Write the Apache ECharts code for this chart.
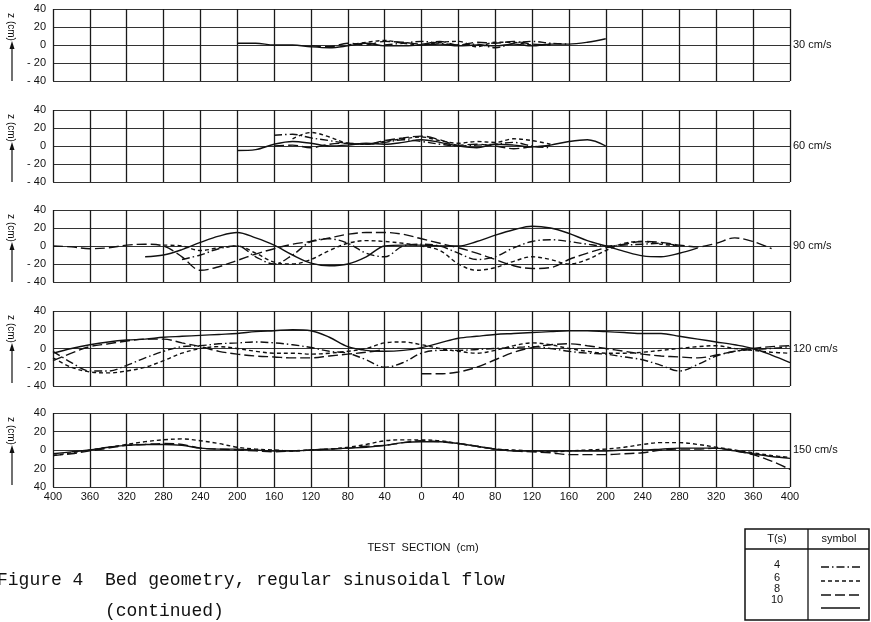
<!DOCTYPE html>
<html><head><meta charset="utf-8">
<script src="https://cdn.jsdelivr.net/npm/echarts@6.0.0/dist/echarts.min.js"></script>
<style>html,body{margin:0;padding:0;background:#fff}#c{width:871px;height:622px}</style>
</head><body><div id="c"></div>
<script>
const _ = null;
// test-section positions (cm), left half shown as 400..0, right half 0..400
const X = [-400,-380,-360,-340,-320,-300,-280,-260,-240,-220,-200,-180,-160,-140,-120,-100,-80,-60,-40,-20,0,20,40,60,80,100,120,140,160,180,200,220,240,260,280,300,320,340,360,380,400];
const speeds = ['30 cm/s','60 cm/s','90 cm/s','120 cm/s','150 cm/s'];
const periods = ['4','6','8','10'];

// 30 cm/s
const v30_T4  = [_,_,_,_,_,_,_,_,_,_,_,_,_,_,_,_,_,_,0,2,4,2,0,1,-3,2,4,2,1,_,_,_,_,_,_,_,_,_,_,_,_];
const v30_T6  = [_,_,_,_,_,_,_,_,_,_,_,_,_,_,_,_,0,3,5,2,0,3,4,-2,3,3,0,1,_,_,_,_,_,_,_,_,_,_,_,_,_];
const v30_T8  = [_,_,_,_,_,_,_,_,_,_,_,_,_,_,-1,-2,2,0,4,3,1,4,0,3,2,4,1,0,_,_,_,_,_,_,_,_,_,_,_,_,_];
const v30_T10 = [_,_,_,_,_,_,_,_,_,_,2,2,0,0,-2,-3,-1,2,-1,-1,0,1,-1,0,-1,1,-1,1,1,3,7,_,_,_,_,_,_,_,_,_,_];
// 60 cm/s
const v60_T4  = [_,_,_,_,_,_,_,_,_,_,_,_,12,13,9,6,3,2,4,7,5,2,0,1,2,4,0,-2,_,_,_,_,_,_,_,_,_,_,_,_,_];
const v60_T6  = [_,_,_,_,_,_,_,_,_,_,_,_,_,8,15,10,3,2,5,8,10,6,3,5,4,8,6,2,_,_,_,_,_,_,_,_,_,_,_,_,_];
const v60_T8  = [_,_,_,_,_,_,_,_,_,_,_,_,0,1,-2,2,3,2,6,9,11,7,1,2,0,-3,-1,0,_,_,_,_,_,_,_,_,_,_,_,_,_];
const v60_T10 = [_,_,_,_,_,_,_,_,_,_,-5,-4,2,5,3,0,1,3,2,4,7,4,0,-2,2,1,-1,1,5,7,0,_,_,_,_,_,_,_,_,_,_];
// 90 cm/s
const v90_T4  = [_,_,_,_,_,_,_,-15,-10,-3,0,-12,-20,-10,5,8,3,-8,-12,0,2,0,-8,-15,-12,-2,5,7,5,2,0,1,2,3,0,_,_,_,_,_,_];
const v90_T6  = [_,_,_,_,_,_,1,0,-5,-2,0,-8,-18,-20,-15,-5,3,6,5,3,0,-5,-20,-27,-24,-17,-12,-15,-20,-15,-5,3,5,2,0,_,_,_,_,_,_];
const v90_T8  = [0,-1,-3,-2,1,2,0,-12,-27,-23,-16,-9,-3,2,5,9,13,15,15,13,8,3,-2,-8,-15,-22,-25,-24,-15,-8,-2,2,5,4,1,-1,3,9,5,-3,_];
const v90_T10 = [_,_,_,_,_,-12,-10,-4,4,11,15,9,1,-10,-19,-22,-20,-12,0,1,1,0,0,5,12,18,22,20,14,6,0,-6,-11,-12,-8,-2,_,_,_,_,_];
// 120 cm/s
const v120_T4  = [-3,-15,-24,-24,-18,-10,-3,2,3,5,6,7,6,4,1,-3,-5,-12,-20,-15,-5,-2,-2,-1,0,1,2,0,-3,-5,-6,-9,-12,-18,-24,-17,-8,-3,-1,0,2];
const v120_T6  = [-10,-20,-25,-26,-24,-20,-13,-5,0,2,0,-3,-5,-5,-6,-5,-3,0,6,7,4,0,-3,-5,-2,3,6,4,0,-3,-5,-5,-4,-2,0,2,3,0,-2,-4,-5];
const v120_T8  = [-13,-5,2,5,8,10,10,6,2,-3,-6,-8,-9,-10,-10,-8,-6,-4,-1,_,-27,-27,-25,-20,-12,-4,1,4,5,3,0,-3,-6,-8,-9,-10,-7,-3,0,2,3];
const v120_T10 = [-5,0,4,7,9,10,12,13,14,15,16,18,19,20,19,12,2,-2,-3,-2,1,6,11,13,15,16,17,18,19,19,18,17,16,16,13,10,7,4,0,-7,-15];
// 150 cm/s
const v150_T6  = [-6,-3,0,3,6,9,11,12,10,7,3,1,0,-1,0,1,3,6,10,11,11,10,7,4,1,0,-1,-2,-1,0,1,3,6,8,8,6,3,0,-3,-6,-8];
const v150_T8  = [-6,-4,-1,2,5,6,7,6,2,1,0,-1,-2,-1,0,1,2,4,5,8,10,9,7,4,1,-1,-2,-3,-5,-5,-5,-4,-3,0,1,1,2,-1,-5,-12,-21];
const v150_T10 = [-4,-2,0,3,5,6,6,5,2,1,1,0,-1,-1,0,1,2,3,5,8,9,9,7,4,1,-1,-1,-1,-1,-1,-1,0,0,1,2,2,2,-1,-4,-7,-9];

const panelData = [
  [v30_T4, v30_T6, v30_T8, v30_T10],
  [v60_T4, v60_T6, v60_T8, v60_T10],
  [v90_T4, v90_T6, v90_T8, v90_T10],
  [v120_T4, v120_T6, v120_T8, v120_T10],
  [null, v150_T6, v150_T8, v150_T10]
];

const styles = [[8,3,1.5,3],[4,3],[10,4],'solid'];
const layout = [{top:9,h:72},{top:110,h:72},{top:210,h:72},{top:311,h:75},{top:413,h:74}];
const LEFT = 53, RIGHT_EDGE = 790;
const FONT = 'Liberation Sans, Arial, sans-serif';

const grids = [], xAxes = [], yAxes = [], series = [], graphics = [];
layout.forEach((p, i) => {
  grids.push({left: LEFT, width: RIGHT_EDGE - LEFT, top: p.top, height: p.h});
  xAxes.push({
    type: 'value', gridIndex: i, min: -400, max: 400, interval: 40,
    axisLine: {show: false}, axisTick: {show: false},
    axisLabel: {show: i === 4, formatter: v => String(Math.abs(v)), fontSize: 11, color: '#111', fontFamily: FONT, margin: 4},
    splitLine: {show: true, lineStyle: {color: '#1a1a1a', width: 1.3}}
  });
  yAxes.push({
    type: 'value', gridIndex: i, min: -40, max: 40, interval: 20,
    axisLine: {show: false}, axisTick: {show: false},
    axisLabel: {fontSize: 11, color: '#111', fontFamily: FONT, margin: 7,
      formatter: v => i === 4 ? String(Math.abs(v)) : (v < 0 ? '- ' + Math.abs(v) : String(v))},
    splitLine: {show: true, lineStyle: {color: '#333', width: 1}}
  });
  panelData[i].forEach((arr, k) => {
    if (!arr) return;
    series.push({
      type: 'line', xAxisIndex: i, yAxisIndex: i, name: periods[k],
      data: X.map((x, j) => [x, arr[j] === null ? '-' : arr[j]]),
      showSymbol: false, smooth: 0.35, connectNulls: false, silent: true,
      lineStyle: {color: '#111', width: 1.4, type: styles[k]}
    });
  });
  const zeroY = p.top + p.h / 2;
  graphics.push({type: 'text', x: 793, y: zeroY, style: {text: speeds[i], fill: '#111', font: '11px ' + FONT, verticalAlign: 'middle', align: 'left'}});
  graphics.push({type: 'text', x: 11, y: p.top + 18, rotation: -Math.PI / 2,
    style: {text: 'z (cm)', fill: '#111', font: '10px ' + FONT, align: 'center', verticalAlign: 'middle'}});
  graphics.push({type: 'line', shape: {x1: 12, y1: p.top + 72, x2: 12, y2: p.top + 36}, style: {stroke: '#111', lineWidth: 1.2}});
  graphics.push({type: 'polygon', shape: {points: [[12, p.top + 32], [9.5, p.top + 40], [14.5, p.top + 40]]}, style: {fill: '#111'}});
});

graphics.push({type: 'text', x: 423, y: 548, style: {text: 'TEST  SECTION  (cm)', fill: '#111', font: '11px ' + FONT, align: 'center', verticalAlign: 'middle'}});
graphics.push({type: 'text', x: -3, y: 580, style: {text: 'Figure 4  Bed geometry, regular sinusoidal flow', fill: '#111', font: '18px Liberation Mono, monospace', align: 'left', verticalAlign: 'middle'}});
graphics.push({type: 'text', x: 105, y: 611, style: {text: '(continued)', fill: '#111', font: '18px Liberation Mono, monospace', align: 'left', verticalAlign: 'middle'}});

// legend table
const TX = 745, TY = 529, TW = 124, TH = 91, DIV = 808, HEAD = 549;
graphics.push({type: 'rect', shape: {x: TX, y: TY, width: TW, height: TH}, style: {fill: 'none', stroke: '#111', lineWidth: 1.5}});
graphics.push({type: 'line', shape: {x1: TX, y1: HEAD, x2: TX + TW, y2: HEAD}, style: {stroke: '#111', lineWidth: 1.3}});
graphics.push({type: 'line', shape: {x1: DIV, y1: TY, x2: DIV, y2: TY + TH}, style: {stroke: '#111', lineWidth: 1.3}});
graphics.push({type: 'text', x: 777, y: 539, style: {text: 'T(s)', fill: '#111', font: '11px ' + FONT, align: 'center', verticalAlign: 'middle'}});
graphics.push({type: 'text', x: 839, y: 539, style: {text: 'symbol', fill: '#111', font: '11px ' + FONT, align: 'center', verticalAlign: 'middle'}});
const numY = [565, 578, 589, 600], symY = [567, 581, 595, 608];
periods.forEach((t, k) => {
  graphics.push({type: 'text', x: 777, y: numY[k], style: {text: t, fill: '#111', font: '11px ' + FONT, align: 'center', verticalAlign: 'middle'}});
  graphics.push({type: 'line', shape: {x1: 821, y1: symY[k], x2: 860, y2: symY[k]},
    style: {stroke: '#111', lineWidth: 1.3, lineDash: styles[k] === 'solid' ? null : styles[k]}});
});

const chart = echarts.init(document.getElementById('c'), null, {renderer: 'canvas'});
chart.setOption({
  animation: false, backgroundColor: '#fff',
  grid: grids, xAxis: xAxes, yAxis: yAxes, series: series, graphic: graphics
});
</script></body></html>
